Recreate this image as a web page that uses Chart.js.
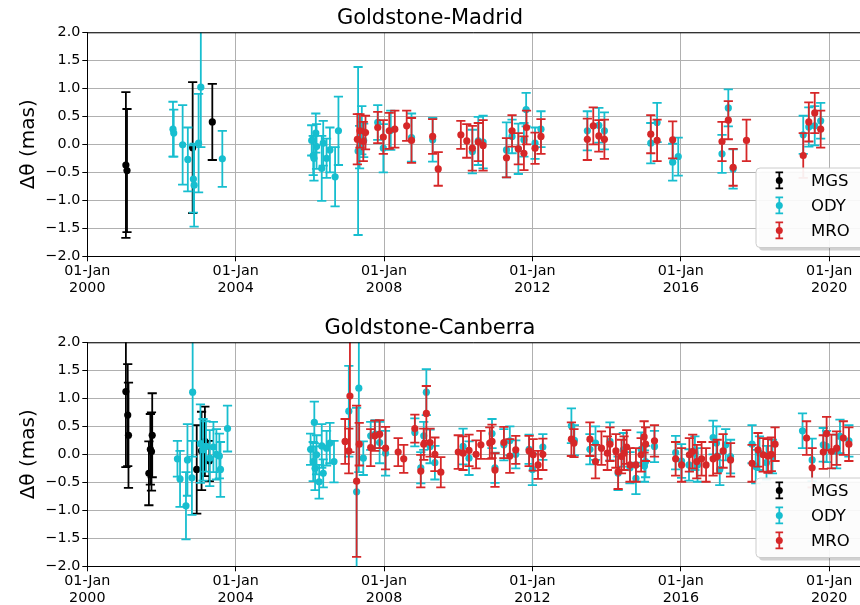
<!DOCTYPE html>
<html>
<head>
<meta charset="utf-8">
<script src="https://cdn.jsdelivr.net/npm/chart.js@4.4.1/dist/chart.umd.min.js"></script>
<style>
  html, body { margin: 0; padding: 0; background: #ffffff; }
  body { width: 860px; height: 605px; position: relative; overflow: hidden; }
  .panel { position: absolute; left: 0; width: 860px; height: 295px; }
  #p1 { top: 0px; }
  #p2 { top: 310px; }
</style>
</head>
<body>
<div class="panel" id="p1"><canvas id="c1" width="860" height="295"></canvas></div>
<div class="panel" id="p2"><canvas id="c2" width="860" height="295"></canvas></div>
<script>
// ---------- axis ticks ----------
const xTickYears = [2000, 2004, 2008, 2012, 2016, 2020];
const xTickTop = '01-Jan';
const yTicks = [-2.0, -1.5, -1.0, -0.5, 0.0, 0.5, 1.0, 1.5, 2.0];
const seriesNames = ['MGS', 'ODY', 'MRO'];
const panelTitles = ['Goldstone-Madrid', 'Goldstone-Canberra'];
const yAxisTitle = 'Δθ (mas)';

// ---------- Goldstone-Madrid ----------
const gmMgsYear = [2001.04, 2001.07, 2002.84, 2003.37];
const gmMgsVal  = [-0.37, -0.47, -0.06, 0.40];
const gmMgsErr  = [1.30, 1.10, 1.17, 0.68];

const gmOdyYear = [2002.31, 2002.33, 2002.57, 2002.71, 2002.86, 2002.88, 2003.00, 2003.06, 2003.64,
  2006.05, 2006.09, 2006.11, 2006.16, 2006.18, 2006.32, 2006.36, 2006.45, 2006.54, 2006.68, 2006.77,
  2007.30, 2007.34, 2007.40, 2007.45, 2007.83, 2007.98, 2008.18, 2008.74, 2009.31, 2010.38, 2010.54, 2010.67,
  2011.30, 2011.45, 2011.62, 2011.77, 2011.83, 2012.07, 2012.23, 2013.48, 2013.79, 2013.94,
  2015.19, 2015.36, 2015.78, 2015.93, 2017.11, 2017.28, 2017.41, 2019.30, 2019.45, 2019.61, 2019.77];
const gmOdyVal = [0.27, 0.20, -0.01, -0.27, -0.62, -0.73, 0.02, 1.02, -0.26,
  0.07, -0.20, -0.25, 0.20, -0.04, -0.43, 0.02, -0.25, -0.10, -0.58, 0.24,
  -0.12, -0.05, 0.25, 0.07, 0.39, -0.07, 0.25, 0.12, 0.08, -0.13, 0.06, 0.04,
  -0.10, 0.14, -0.08, 0.08, 0.62, 0.02, 0.27, 0.24, 0.34, 0.24,
  0.02, 0.39, -0.32, -0.22, -0.17, 0.65, -0.44, 0.17, 0.31, 0.33, 0.42];
const gmOdyErr = [0.49, 0.42, 0.71, 0.57, 0.60, 0.74, 0.88, 1.07, 0.50,
  0.27, 0.35, 0.40, 0.35, 0.40, 0.58, 0.40, 0.35, 0.40, 0.53, 0.61,
  1.50, 0.38, 0.43, 0.30, 0.31, 0.43, 0.35, 0.43, 0.39, 0.39, 0.43, 0.47,
  0.49, 0.30, 0.45, 0.30, 0.30, 0.28, 0.32, 0.35, 0.31, 0.33,
  0.36, 0.35, 0.33, 0.34, 0.34, 0.33, 0.35, 0.34, 0.35, 0.35, 0.32];

const gmMroYear = [2007.28, 2007.35, 2007.44, 2007.50, 2007.83, 2007.98, 2008.14, 2008.29, 2008.61, 2008.74,
  2009.31, 2009.46, 2010.07, 2010.23, 2010.38, 2010.54, 2010.67, 2011.30, 2011.45, 2011.62, 2011.77, 2011.84,
  2012.07, 2012.23, 2013.48, 2013.64, 2013.79, 2013.94, 2015.19, 2015.36, 2015.78, 2017.11, 2017.28, 2017.41,
  2017.77, 2019.30, 2019.45, 2019.61, 2019.77];
const gmMroVal = [0.09, 0.24, 0.05, 0.21, 0.30, 0.13, 0.24, 0.27, 0.33, 0.07,
  0.14, -0.44, 0.17, 0.06, -0.07, 0.04, -0.02, -0.24, 0.24, -0.08, -0.16, 0.30,
  -0.07, 0.14, 0.09, 0.33, 0.15, 0.09, 0.18, 0.07, 0.08, 0.05, 0.43, -0.41,
  0.07, -0.20, 0.40, 0.56, 0.27];
const gmMroErr = [0.45, 0.30, 0.35, 0.30, 0.28, 0.30, 0.32, 0.33, 0.27, 0.40,
  0.31, 0.30, 0.25, 0.30, 0.40, 0.34, 0.45, 0.35, 0.28, 0.28, 0.30, 0.30,
  0.28, 0.31, 0.37, 0.33, 0.28, 0.35, 0.34, 0.37, 0.33, 0.35, 0.34, 0.33,
  0.37, 0.40, 0.35, 0.36, 0.33];

// ---------- Goldstone-Canberra ----------
const gcMgsYear = [2001.04, 2001.09, 2001.11, 2001.66, 2001.70, 2001.73, 2001.75, 2002.95, 2003.08, 2003.17, 2003.29];
const gcMgsVal  = [1.12, 0.70, 0.34, -0.34, 0.09, 0.05, 0.34, -0.27, 0.06, 0.23, -0.12];
const gcMgsErr  = [1.35, 0.91, 0.94, 0.57, 0.63, 0.70, 0.75, 0.79, 0.70, 0.62, 0.36];

const gcOdyYear = [2002.43, 2002.50, 2002.66, 2002.70, 2002.82, 2002.84, 2003.05, 2003.12, 2003.20, 2003.30,
  2003.40, 2003.48, 2003.56, 2003.59, 2003.78,
  2006.02, 2006.09, 2006.12, 2006.14, 2006.18, 2006.25, 2006.32, 2006.36, 2006.45, 2006.54, 2006.65,
  2007.05, 2007.26, 2007.32, 2007.44, 2007.64, 2007.76, 2007.88, 2008.04, 2008.83, 2008.99, 2009.07,
  2009.14, 2009.24, 2009.37, 2010.13, 2010.29, 2010.91, 2010.99, 2011.23, 2011.39, 2011.55, 2011.91,
  2012.00, 2012.28, 2013.05, 2013.13, 2013.55, 2013.70, 2014.09, 2014.31, 2014.45, 2014.63, 2014.79,
  2014.93, 2015.02, 2015.05, 2015.29, 2015.86, 2016.02, 2016.22, 2016.38, 2016.45, 2016.87, 2016.96,
  2017.05, 2017.21, 2017.34, 2017.92, 2018.02, 2018.12, 2018.31, 2018.47, 2019.28, 2019.54, 2019.84,
  2019.93, 2020.20, 2020.29, 2020.53];
const gcOdyVal = [-0.08, -0.44, -0.92, -0.10, -0.42, 1.11, 0.19, 0.08, 0.14, -0.07,
  0.13, 0.00, -0.03, -0.27, 0.46,
  0.09, -0.13, 0.57, -0.25, -0.01, -0.49, 0.15, -0.34, 0.11, 0.20, -0.13,
  0.77, -0.67, 1.18, -0.07, 0.33, 0.36, 0.21, 0.02, 0.39, -0.24, 0.33,
  1.11, 0.14, -0.15, 0.14, -0.07, 0.37, -0.24, 0.17, 0.24, 0.00, 0.09,
  -0.27, 0.13, 0.51, 0.25, 0.09, 0.20, 0.23, -0.34, 0.08, -0.24, -0.43,
  0.09, -0.21, -0.13, 0.14, 0.03, -0.12, -0.19, 0.02, -0.19, 0.30, 0.20,
  -0.27, 0.17, -0.04, 0.18, -0.22, 0.02, -0.15, -0.04, 0.42, -0.10, 0.17,
  0.14, 0.05, 0.32, 0.24];
const gcOdyErr = [0.32, 0.50, 0.60, 0.64, 0.66, 1.15, 0.70, 0.55, 0.45, 0.50,
  0.45, 0.45, 0.40, 0.49, 0.41,
  0.28, 0.35, 0.37, 0.39, 0.35, 0.30, 0.39, 0.25, 0.31, 0.36, 0.37,
  0.81, 1.50, 1.50, 0.30, 0.25, 0.25, 0.37, 0.40, 0.25, 0.28, 0.25,
  0.41, 0.30, 0.30, 0.32, 0.30, 0.26, 0.27, 0.28, 0.26, 0.25, 0.26,
  0.28, 0.23, 0.31, 0.27, 0.27, 0.30, 0.34, 0.30, 0.30, 0.28, 0.28,
  0.30, 0.28, 0.28, 0.28, 0.30, 0.30, 0.28, 0.30, 0.30, 0.30, 0.30,
  0.28, 0.28, 0.30, 0.34, 0.30, 0.30, 0.30, 0.30, 0.31, 0.38, 0.30,
  0.28, 0.30, 0.30, 0.28];

const gcMroYear = [2006.95, 2007.05, 2007.08, 2007.26, 2007.33, 2007.64, 2007.75, 2007.88, 2008.04, 2008.38,
  2008.53, 2008.83, 2008.99, 2009.07, 2009.14, 2009.24, 2009.37, 2009.53, 2010.00, 2010.13, 2010.29,
  2010.48, 2010.61, 2010.85, 2010.91, 2010.99, 2011.23, 2011.39, 2011.55, 2011.91, 2012.02, 2012.15,
  2012.28, 2013.05, 2013.12, 2013.55, 2013.70, 2013.86, 2014.02, 2014.09, 2014.25, 2014.31, 2014.40,
  2014.47, 2014.54, 2014.63, 2014.79, 2014.93, 2015.01, 2015.05, 2015.29, 2015.86, 2016.02, 2016.23,
  2016.32, 2016.43, 2016.56, 2016.68, 2016.87, 2016.98, 2017.14, 2017.34, 2017.92, 2018.08, 2018.22,
  2018.35, 2018.44, 2018.54, 2019.39, 2019.54, 2019.84, 2019.93, 2020.06, 2020.20, 2020.38, 2020.53];
const gcMroVal = [0.23, 0.06, 1.04, -0.48, 0.18, 0.12, 0.33, 0.36, 0.11, 0.04,
  -0.08, 0.46, -0.30, 0.18, 0.73, 0.21, 0.00, -0.32, 0.04, 0.02, 0.07,
  0.00, 0.17, 0.20, 0.23, -0.28, 0.21, -0.03, 0.08, 0.06, -0.01, -0.19,
  0.00, 0.27, 0.20, 0.27, -0.13, 0.11, 0.02, 0.18, 0.06, -0.31, -0.04,
  0.02, 0.13, -0.19, -0.19, -0.01, 0.31, 0.18, 0.24, -0.08, -0.19, -0.01,
  0.05, -0.13, -0.08, -0.19, -0.08, -0.04, 0.06, -0.10, -0.16, 0.08, -0.01,
  -0.03, 0.00, 0.18, 0.29, -0.24, 0.04, 0.37, 0.05, 0.11, 0.29, 0.18];
const gcMroErr = [0.40, 0.40, 1.00, 1.35, 0.38, 0.33, 0.27, 0.25, 0.38, 0.25,
  0.25, 0.25, 0.29, 0.28, 0.49, 0.25, 0.30, 0.27, 0.30, 0.30, 0.28,
  0.25, 0.25, 0.28, 0.30, 0.30, 0.28, 0.30, 0.25, 0.27, 0.28, 0.25,
  0.28, 0.30, 0.25, 0.30, 0.30, 0.30, 0.30, 0.30, 0.30, 0.31, 0.30,
  0.30, 0.30, 0.30, 0.30, 0.30, 0.28, 0.30, 0.28, 0.30, 0.30, 0.30,
  0.30, 0.30, 0.30, 0.30, 0.30, 0.30, 0.30, 0.30, 0.33, 0.30, 0.30,
  0.30, 0.30, 0.30, 0.30, 0.35, 0.30, 0.30, 0.30, 0.30, 0.30, 0.30];

// ---------- styling ----------
const seriesColors = ['#000000', '#17becf', '#d62728'];
const FONT = "'DejaVu Sans', 'Liberation Sans', sans-serif";

function pts(years, vals) { return years.map((y, i) => ({ x: y, y: vals[i] })); }

const errorBarPlugin = {
  id: 'errorBars',
  beforeDatasetDraw(chart, args) {
    const ds = chart.data.datasets[args.index];
    if (!ds.errors) return;
    const xs = chart.scales.x, ys = chart.scales.y;
    const ctx = chart.ctx, a = chart.chartArea;
    ctx.save();
    ctx.beginPath();
    ctx.rect(a.left, a.top, a.right - a.left, a.bottom - a.top);
    ctx.clip();
    ctx.strokeStyle = ds.backgroundColor;
    ctx.lineWidth = 1.8;
    ds.data.forEach((p, i) => {
      const x = xs.getPixelForValue(p.x);
      const yT = ys.getPixelForValue(p.y + ds.errors[i]);
      const yB = ys.getPixelForValue(p.y - ds.errors[i]);
      ctx.beginPath();
      ctx.moveTo(x, yT); ctx.lineTo(x, yB);
      ctx.moveTo(x - 4.6, yT); ctx.lineTo(x + 4.6, yT);
      ctx.moveTo(x - 4.6, yB); ctx.lineTo(x + 4.6, yB);
      ctx.stroke();
    });
    ctx.restore();
  }
};

const framePlugin = {
  id: 'frameAndLegend',
  afterDraw(chart) {
    const ctx = chart.ctx, a = chart.chartArea;
    // top spine
    ctx.save();
    ctx.strokeStyle = '#000';
    ctx.lineWidth = 1;
    ctx.beginPath();
    ctx.moveTo(a.left, a.top + 0.5);
    ctx.lineTo(a.right, a.top + 0.5);
    ctx.stroke();
    // legend box
    const bx = a.right - 104, by = a.bottom - 88.3, bw = 112, bh = 79.5, r = 4;
    const rr = (x, y, w, h) => {
      ctx.beginPath();
      ctx.moveTo(x + r, y);
      ctx.lineTo(x + w - r, y); ctx.quadraticCurveTo(x + w, y, x + w, y + r);
      ctx.lineTo(x + w, y + h - r); ctx.quadraticCurveTo(x + w, y + h, x + w - r, y + h);
      ctx.lineTo(x + r, y + h); ctx.quadraticCurveTo(x, y + h, x, y + h - r);
      ctx.lineTo(x, y + r); ctx.quadraticCurveTo(x, y, x + r, y);
      ctx.closePath();
    };
    rr(bx + 3, by + 3, bw, bh);
    ctx.fillStyle = 'rgba(0,0,0,0.18)';
    ctx.fill();
    rr(bx, by, bw, bh);
    ctx.fillStyle = 'rgba(255,255,255,0.92)';
    ctx.fill();
    ctx.strokeStyle = '#cccccc';
    ctx.lineWidth = 1;
    ctx.stroke();
    seriesNames.forEach((name, i) => {
      const sy = by + 12.4 + 25 * i;
      const sx = bx + 23.3;
      ctx.strokeStyle = seriesColors[i];
      ctx.lineWidth = 1.8;
      ctx.beginPath();
      ctx.moveTo(sx, sy - 8); ctx.lineTo(sx, sy + 8);
      ctx.moveTo(sx - 3.8, sy - 8); ctx.lineTo(sx + 3.8, sy - 8);
      ctx.moveTo(sx - 3.8, sy + 8); ctx.lineTo(sx + 3.8, sy + 8);
      ctx.stroke();
      ctx.fillStyle = seriesColors[i];
      ctx.beginPath();
      ctx.arc(sx, sy, 3.5, 0, Math.PI * 2);
      ctx.fill();
      ctx.fillStyle = '#000';
      ctx.font = '16.5px ' + FONT;
      ctx.textBaseline = 'middle';
      ctx.textAlign = 'left';
      ctx.fillText(name, bx + 55, sy + 1);
    });
    ctx.restore();
  }
};

function makeChart(canvasId, title, sets) {
  const datasets = sets.map((s, i) => ({
    label: seriesNames[i],
    data: pts(s[0], s[1]),
    errors: s[2],
    backgroundColor: seriesColors[i],
    borderColor: seriesColors[i],
    pointRadius: 3.6,
    pointHoverRadius: 3.6,
    pointBorderWidth: 0,
    showLine: false,
    order: 2 - i
  }));
  return new Chart(document.getElementById(canvasId), {
    type: 'scatter',
    data: { datasets },
    plugins: [errorBarPlugin, framePlugin],
    options: {
      responsive: false,
      devicePixelRatio: 1,
      animation: false,
      events: [],
      layout: { padding: 0, autoPadding: false },
      plugins: {
        legend: { display: false },
        tooltip: { enabled: false },
        title: {
          display: true,
          text: title,
          color: '#000',
          font: { family: FONT, size: 21, weight: 'normal' },
          padding: { top: 6, bottom: 1.1 }
        }
      },
      scales: {
        x: {
          type: 'linear',
          min: 2000,
          max: 2020.83,
          afterBuildTicks: (scale) => { scale.ticks = xTickYears.map(v => ({ value: v })); },
          afterFit: (scale) => { scale.height = 38.7; scale.paddingRight = 0; scale.paddingLeft = 0; },
          grid: { color: '#b0b0b0', lineWidth: 1, tickColor: '#000', tickLength: 5, drawTicks: true },
          border: { display: true, color: '#000', width: 1 },
          ticks: {
            autoSkip: false, maxRotation: 0, minRotation: 0, padding: 2, color: '#000',
            font: { family: FONT, size: 14.3, lineHeight: 1.17 },
            callback: (v) => [xTickTop, String(Math.round(v))]
          }
        },
        y: {
          type: 'linear',
          min: -2,
          max: 2,
          afterBuildTicks: (scale) => { scale.ticks = yTicks.map(v => ({ value: v })); },
          afterFit: (scale) => { scale.width = 87.3; },
          grid: { color: '#b0b0b0', lineWidth: 1, tickColor: '#000', tickLength: 5, drawTicks: true },
          border: { display: true, color: '#000', width: 1 },
          ticks: {
            autoSkip: false, padding: 2, color: '#000',
            font: { family: FONT, size: 14.3 },
            callback: (v) => (v < 0 ? '\u2212' : '') + Math.abs(v).toFixed(1)
          },
          title: {
            display: true,
            text: yAxisTitle,
            color: '#000',
            font: { family: FONT, size: 20 },
            padding: { top: 17, bottom: 0 }
          }
        }
      }
    }
  });
}

makeChart('c1', panelTitles[0], [
  [gmMgsYear, gmMgsVal, gmMgsErr],
  [gmOdyYear, gmOdyVal, gmOdyErr],
  [gmMroYear, gmMroVal, gmMroErr]
]);
makeChart('c2', panelTitles[1], [
  [gcMgsYear, gcMgsVal, gcMgsErr],
  [gcOdyYear, gcOdyVal, gcOdyErr],
  [gcMroYear, gcMroVal, gcMroErr]
]);
</script>
</body>
</html>
